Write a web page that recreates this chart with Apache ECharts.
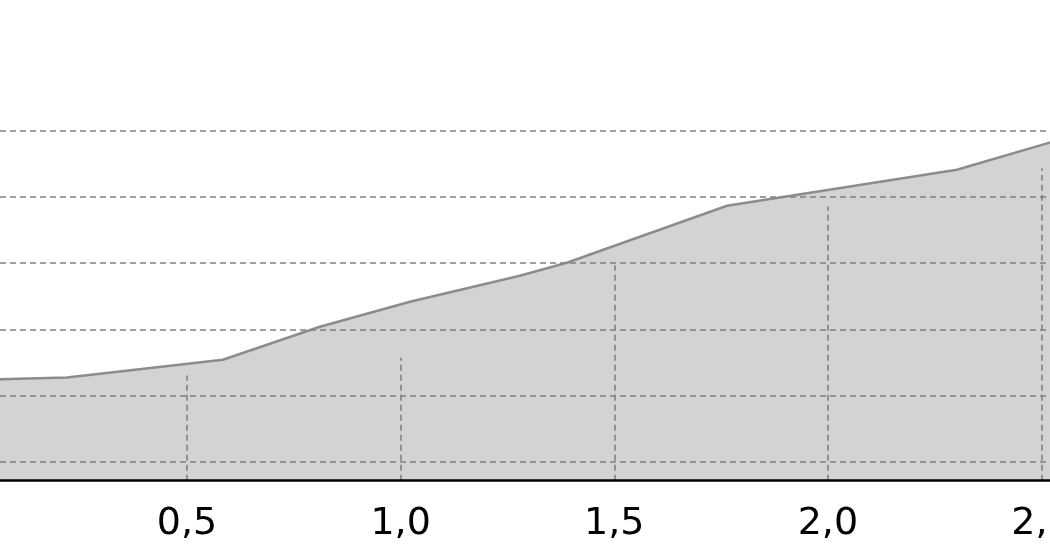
<!DOCTYPE html>
<html>
<head>
<meta charset="utf-8">
<script src="https://cdn.jsdelivr.net/npm/echarts@6/dist/echarts.min.js"></script>
<style>
  html, body { margin: 0; padding: 0; background: #fff; }
  #chart { width: 1050px; height: 560px; }
</style>
</head>
<body>
<div id="chart"></div>
<script>
// ---- data ----
var xValues = [0, 0.219, 0.584, 0.811, 1.022, 1.279, 1.389, 1.764, 2.302, 2.613];
var yValues = [2.241, 2.276, 2.543, 3.040, 3.417, 3.809, 4.005, 4.864, 5.407, 5.995];
var dropX = [0.5, 1.0, 1.5, 2.0, 2.5];
var dropY = [2.306, 2.573, 3.967, 4.854, 5.430];
var gridY = [1, 2, 3, 4, 5, 6];
var xTicks = [0.5, 1.0, 1.5, 2.0, 2.5];
var xMin = 0.0623, xMax = 2.5199;
var yMin = 0.72, yMax = 6.76;

var seriesData = xValues.map(function (x, i) { return [x, yValues[i]]; });
var dashStyle = { color: '#808080', width: 1.6, type: [6, 4] };

var markData = gridY.map(function (v) { return { yAxis: v, lineStyle: dashStyle }; });
dropX.forEach(function (x, i) {
  markData.push([{ coord: [x, yMin], lineStyle: dashStyle }, { coord: [x, dropY[i]] }]);
});

var chart = echarts.init(document.getElementById('chart'), null, { renderer: 'canvas' });
chart.setOption({
  animation: false,
  backgroundColor: '#ffffff',
  grid: { left: 0, right: 0, top: 80, bottom: 79.3, containLabel: false, outerBoundsMode: 'none' },
  xAxis: {
    type: 'value',
    min: xMin,
    max: xMax,
    z: 10,
    axisLine: { show: true, onZero: false, lineStyle: { color: '#000', width: 2.6 } },
    axisTick: { show: false, customValues: xTicks },
    splitLine: { show: false },
    axisLabel: {
      customValues: xTicks,
      margin: 24,
      color: '#000',
      fontFamily: 'DejaVu Sans',
      fontSize: 38,
      formatter: function (v) { return v.toFixed(1).replace('.', ','); }
    }
  },
  yAxis: {
    type: 'value',
    min: yMin,
    max: yMax,
    axisLine: { show: false },
    axisTick: { show: false },
    axisLabel: { show: false },
    splitLine: { show: false }
  },
  series: [{
    type: 'line',
    data: seriesData,
    symbol: 'none',
    lineStyle: { color: '#8c8c8c', width: 2.5 },
    areaStyle: { color: '#d3d3d3', opacity: 1, origin: 'start' },
    silent: true,
    markLine: {
      silent: true,
      symbol: ['none', 'none'],
      label: { show: false },
      emphasis: { disabled: true },
      lineStyle: dashStyle,
      data: markData
    }
  }]
});
</script>
</body>
</html>
